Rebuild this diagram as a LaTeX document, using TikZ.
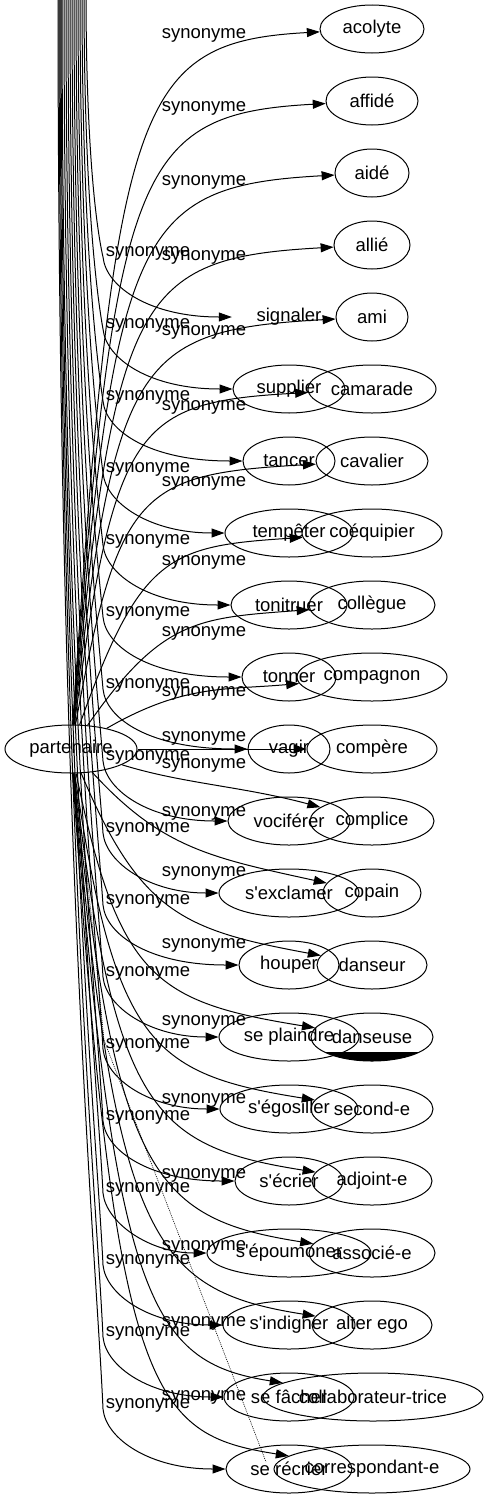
\documentclass[tikz,border=0pt]{standalone}
\usepackage{fontspec}
\newfontfamily\gv{Liberation Sans}
\usetikzlibrary{arrows.meta,shapes.geometric}
\begin{document}
\begin{tikzpicture}[x=1pt,y=-1pt,
  txt/.style={font=\gv\fontsize{18.5}{22}\selectfont},
  lbl/.style={txt, inner sep=0pt},
  wn/.style={txt, ellipse, draw, line width=1pt, inner sep=0pt, minimum height=48pt},
  hid/.style={txt, ellipse, inner sep=0pt, minimum height=48pt},
  edge/.style={line width=1pt, -{Triangle[length=13pt,width=9pt]}},
  dotline/.style={line width=0.6pt, dash pattern=on 1pt off 1pt}]
\useasboundingbox (0,0) rectangle (487,1499);

% source node
\node[wn, minimum width=132pt] (part) at (71,749) {partenaire};

% right column
\node[wn, minimum width=104pt] (r1) at (372,29) {acolyte};
\node[wn, minimum width=92pt] (r2) at (372,101) {affidé};
\node[wn, minimum width=74pt] (r3) at (372,173) {aidé};
\node[wn, minimum width=76pt] (r4) at (372,245) {allié};
\node[wn, minimum width=72pt] (r5) at (372,317) {ami};
\node[wn, minimum width=128pt] (r6) at (372,389) {camarade};
\node[wn, minimum width=112pt] (r7) at (372,461) {cavalier};
\node[wn, minimum width=140pt] (r8) at (372,533) {coéquipier};
\node[wn, minimum width=126pt] (r9) at (372,605) {collègue};
\node[wn, minimum width=150pt] (r10) at (372,677) {compagnon};
\node[wn, minimum width=130pt] (r11) at (372,749) {compère};
\node[wn, minimum width=124pt] (r12) at (372,821) {complice};
\node[wn, minimum width=98pt] (r13) at (372,893) {copain};
\node[wn, minimum width=110pt] (r14) at (372,965) {danseur};
\node[wn, minimum width=122pt] (r15) at (372,1037) {danseuse};
\node[wn, minimum width=122pt] (r16) at (372,1109) {second-e};
\node[wn, minimum width=120pt] (r17) at (372,1181) {adjoint-e};
\node[wn, minimum width=126pt] (r18) at (372,1253) {associé-e};
\node[wn, minimum width=120pt] (r19) at (372,1325) {alter ego};
\node[wn, minimum width=220pt] (r20) at (373,1397) {collaborateur-trice};
\node[wn, minimum width=196pt] (r21) at (372,1469) {correspondant-e};

% middle column
\node[hid, minimum width=114pt] (m1) at (289,317) {signaler};
\node[wn, minimum width=112pt] (m2) at (289,389) {supplier};
\node[wn, minimum width=92pt] (m3) at (289,461) {tancer};
\node[wn, minimum width=128pt] (m4) at (289,533) {tempêter};
\node[wn, minimum width=116pt] (m5) at (289,605) {tonitruer};
\node[wn, minimum width=94pt] (m6) at (289,677) {tonner};
\node[wn, minimum width=82pt] (m7) at (289,749) {vagir};
\node[wn, minimum width=122pt] (m8) at (289,821) {vociférer};
\node[wn, minimum width=140pt] (m9) at (289,893) {s'exclamer};
\node[wn, minimum width=100pt] (m10) at (289,965) {houper};
\node[wn, minimum width=140pt] (m11) at (289,1037) {se plaindre};
\node[wn, minimum width=138pt] (m12) at (289,1109) {s'égosiller};
\node[wn, minimum width=108pt] (m13) at (289,1181) {s'écrier};
\node[wn, minimum width=164pt] (m14) at (289,1253) {s'époumoner};
\node[wn, minimum width=132pt] (m15) at (289,1325) {s'indigner};
\node[wn, minimum width=130pt] (m16) at (289,1397) {se fâcher};
\node[wn, minimum width=126pt] (m17) at (289,1469) {se récrier};

% black artefact under danseuse
\begin{scope}
  \clip (300,1052) rectangle (440,1072);
  \fill (r15.center) ellipse [x radius=61pt, y radius=24pt];
\end{scope}

% edges partenaire -> right column
\draw[edge] (part) .. controls (115,101) and (135,42) .. (r1);
\draw[edge] (part) .. controls (115,166) and (135,114) .. (r2);
\draw[edge] (part) .. controls (115,231) and (135,186) .. (r3);
\draw[edge] (part) .. controls (115,295) and (135,258) .. (r4);
\draw[edge] (part) .. controls (115,360) and (135,330) .. (r5);
\draw[edge] (part) .. controls (115,425) and (135,402) .. (r6);
\draw[edge] (part) .. controls (118.6,490) and (139.8,474) .. (r7);
\draw[edge] (part) .. controls (140.2,555) and (168.6,546) .. (r8);
\draw[edge] (part) .. controls (161.8,619) and (197.4,618) .. (r9);
\draw[edge] (part) .. controls (183.4,684) and (226.2,690) .. (r10);
\draw[edge] (part) -- (r11);
\draw[edge] (part) .. controls (183.4,783.8) and (241.2,786) .. (r12);
\draw[edge] (part) .. controls (161.8,848.6) and (212.4,858) .. (r13);
\draw[edge] (part) .. controls (140.2,913.4) and (183.6,930) .. (r14);
\draw[edge] (part) .. controls (118.6,978.2) and (154.8,1002) .. (r15);
\draw[edge] (part) .. controls (115,1043) and (150,1074) .. (r16);
\draw[edge] (part) .. controls (115,1107.8) and (150,1146) .. (r17);
\draw[edge] (part) .. controls (115,1172.6) and (150,1218) .. (r18);
\draw[edge] (part) .. controls (115,1237.4) and (150,1290) .. (r19);
\draw[edge] (part) .. controls (115,1302.2) and (150,1362) .. (r20);
\draw[edge] (part) .. controls (115,1397) and (150,1434) .. (r21);

% edges from above -> middle column
\coordinate (t1) at (86,-10);  \coordinate (b1) at (103,257);
\coordinate (t2) at (84,-10);  \coordinate (b2) at (103,329);
\coordinate (t3) at (82,-10);  \coordinate (b3) at (103,401);
\coordinate (t4) at (80,-10);  \coordinate (b4) at (103,473);
\coordinate (t5) at (78,-10);  \coordinate (b5) at (103,545);
\coordinate (t6) at (76,-10);  \coordinate (b6) at (103,617);
\coordinate (t7) at (74,-10);  \coordinate (b7) at (103,689);
\coordinate (t8) at (72,-10);  \coordinate (b8) at (103,761);
\coordinate (t9) at (70,-10);  \coordinate (b9) at (103,833);
\coordinate (t10) at (68,-10); \coordinate (b10) at (103,905);
\coordinate (t11) at (66,-10); \coordinate (b11) at (103,977);
\coordinate (t12) at (64,-10); \coordinate (b12) at (103,1049);
\coordinate (t13) at (62,-10); \coordinate (b13) at (103,1121);
\coordinate (t14) at (61,-10); \coordinate (b14) at (103,1193);
\coordinate (t15) at (60,-10); \coordinate (b15) at (103,1265);
\coordinate (t16) at (59,-10); \coordinate (b16) at (103,1337);
\coordinate (t17) at (58,-10); \coordinate (b17) at (103,1409);

\draw[edge] (t1) .. controls (86,154) and (97,231) .. (b1) .. controls (106,287) and (150,317) .. (m1);
\draw[edge] (t2) .. controls (84,197) and (97,296) .. (b2) .. controls (106,359) and (150,389) .. (m2);
\draw[edge] (t3) .. controls (82,241) and (97,361) .. (b3) .. controls (106,431) and (150,461) .. (m3);
\draw[edge] (t4) .. controls (80,284) and (97,426) .. (b4) .. controls (106,503) and (150,533) .. (m4);
\draw[edge] (t5) .. controls (78,327) and (97,491) .. (b5) .. controls (106,575) and (150,605) .. (m5);
\draw[edge] (t6) .. controls (76,370) and (97,555) .. (b6) .. controls (106,647) and (150,677) .. (m6);
\draw[edge] (t7) .. controls (74,413) and (97,620) .. (b7) .. controls (106,719) and (150,749) .. (m7);
\draw[edge] (t8) .. controls (72,457) and (97,685) .. (b8) .. controls (106,791) and (150,821) .. (m8);
\draw[edge] (t9) .. controls (70,500) and (97,750) .. (b9) .. controls (106,863) and (150,893) .. (m9);
\draw[edge] (t10) .. controls (68,543) and (97,815) .. (b10) .. controls (106,935) and (150,965) .. (m10);
\draw[edge] (t11) .. controls (66,586) and (97,879) .. (b11) .. controls (106,1007) and (150,1037) .. (m11);
\draw[edge] (t12) .. controls (64,629) and (97,944) .. (b12) .. controls (106,1079) and (150,1109) .. (m12);
\draw[edge] (t13) .. controls (62,673) and (97,1009) .. (b13) .. controls (106,1151) and (150,1181) .. (m13);
\draw[edge] (t14) .. controls (61,716) and (97,1074) .. (b14) .. controls (106,1223) and (150,1253) .. (m14);
\draw[edge] (t15) .. controls (60,759) and (97,1139) .. (b15) .. controls (106,1295) and (150,1325) .. (m15);
\draw[edge] (t16) .. controls (59,802) and (97,1203) .. (b16) .. controls (106,1367) and (150,1397) .. (m16);
\draw[edge] (t17) .. controls (58,845) and (97,1268) .. (b17) .. controls (106,1439) and (150,1469) .. (m17);

% dotted stray line
\coordinate (dA) at (104,1040);
\coordinate (dB) at (266,1462);
\draw[dotline] (part) .. controls (90,900) .. (dA) -- (dB);

% labels of the edges to the right column
\node[lbl] (lr1) at (204,35) {synonyme};
\node[lbl] (lr2) at (204,108) {synonyme};
\node[lbl] (lr3) at (204,182) {synonyme};
\node[lbl] (lr4) at (204,257) {synonyme};
\node[lbl] (lr5) at (204,332) {synonyme};
\node[lbl] (lr6) at (204,407) {synonyme};
\node[lbl] (lr7) at (204,483) {synonyme};
\node[lbl] (lr8) at (204,562) {synonyme};
\node[lbl] (lr9) at (204,633) {synonyme};
\node[lbl] (lr10) at (204,693) {synonyme};
\node[lbl] (lr11) at (204,738) {synonyme};
\node[lbl] (lr12) at (204,765) {synonyme};
\node[lbl] (lr13) at (204,813) {synonyme};
\node[lbl] (lr14) at (204,873) {synonyme};
\node[lbl] (lr15) at (204,945) {synonyme};
\node[lbl] (lr16) at (204,1022) {synonyme};
\node[lbl] (lr17) at (204,1100) {synonyme};
\node[lbl] (lr18) at (204,1175) {synonyme};
\node[lbl] (lr19) at (204,1247) {synonyme};
\node[lbl] (lr20) at (204,1323) {synonyme};
\node[lbl] (lr21) at (204,1397) {synonyme};

% labels of the edges to the middle column
\node[lbl] (lm1) at (148,253) {synonyme};
\node[lbl] (lm2) at (148,325) {synonyme};
\node[lbl] (lm3) at (148,397) {synonyme};
\node[lbl] (lm4) at (148,469) {synonyme};
\node[lbl] (lm5) at (148,541) {synonyme};
\node[lbl] (lm6) at (148,613) {synonyme};
\node[lbl] (lm7) at (148,685) {synonyme};
\node[lbl] (lm8) at (148,757) {synonyme};
\node[lbl] (lm9) at (148,829) {synonyme};
\node[lbl] (lm10) at (148,901) {synonyme};
\node[lbl] (lm11) at (148,973) {synonyme};
\node[lbl] (lm12) at (148,1045) {synonyme};
\node[lbl] (lm13) at (148,1117) {synonyme};
\node[lbl] (lm14) at (148,1189) {synonyme};
\node[lbl] (lm15) at (148,1261) {synonyme};
\node[lbl] (lm16) at (148,1333) {synonyme};
\node[lbl] (lm17) at (148,1405) {synonyme};
\end{tikzpicture}
\end{document}
